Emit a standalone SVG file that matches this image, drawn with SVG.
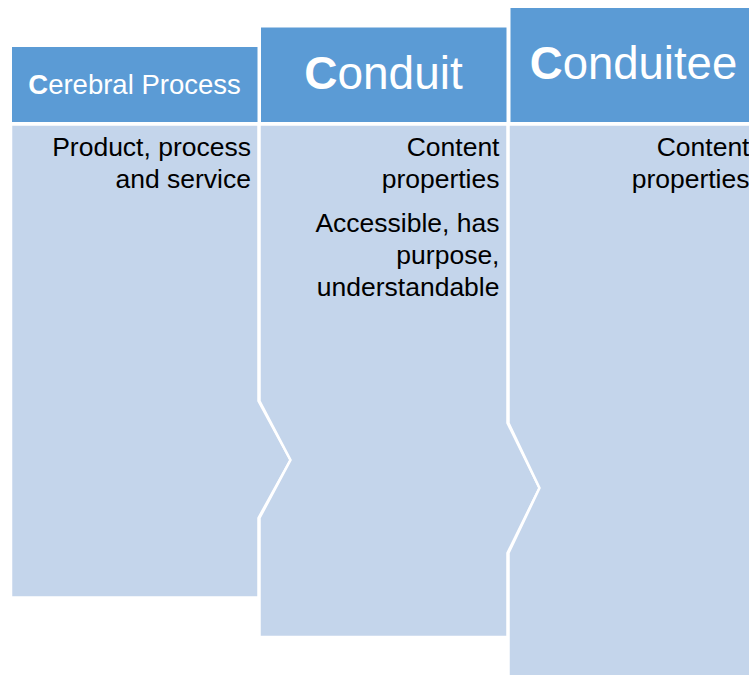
<svg xmlns="http://www.w3.org/2000/svg" width="749" height="675" viewBox="0 0 749 675">
<style>
.hdr{fill:#5B9BD5;stroke:#FFFFFF;stroke-width:2}
.body{fill:#C4D5EB;stroke:#FFFFFF;stroke-width:2.5;stroke-linejoin:miter}
.ht{font-family:"Liberation Sans",Arial,sans-serif;fill:#FFFFFF;text-anchor:middle}
.bt{font-family:"Liberation Sans",Arial,sans-serif;font-size:26.5px;fill:#000000;text-anchor:end}
.b{font-weight:bold}
</style>
<rect width="749" height="675" fill="#FFFFFF"/>
<g id="connectors"></g>
<g id="col1">
<polygon class="body" points="11,124.5 258.5,124.5 258.5,401 290.5,460 258.5,518 258.5,597.5 11,597.5"/>
<rect class="hdr" x="11" y="46" width="247.5" height="77"/>
<text class="ht" x="134.5" y="94" font-size="27.5"><tspan class="b">C</tspan>erebral Process</text>
<text class="bt" x="251" y="156">Product, process</text>
<text class="bt" x="251" y="188">and service</text>
</g>
<g id="col2">
<polygon class="body" points="259.5,124.5 507.5,124.5 507.5,423 539.5,488 507.5,553 507.5,637 259.5,637 259.5,518 290.5,460 259.5,401"/>
<rect class="hdr" x="260" y="26.5" width="247.5" height="96.5"/>
<text class="ht" x="383.5" y="89" font-size="46"><tspan class="b">C</tspan>onduit</text>
<text class="bt" x="499.5" y="156">Content</text>
<text class="bt" x="499.5" y="187.5">properties</text>
<text class="bt" x="499.5" y="231.5">Accessible, has</text>
<text class="bt" x="499.5" y="263.5">purpose,</text>
<text class="bt" x="499.5" y="296">understandable</text>
</g>
<g id="col3">
<polygon class="body" points="508.5,124.5 760,124.5 760,680 508.5,680 508.5,553 539.5,488 508.5,423"/>
<rect class="hdr" x="509.5" y="7" width="250" height="116"/>
<text class="ht" x="633.5" y="79" font-size="45.5"><tspan class="b">C</tspan>onduitee</text>
<text class="bt" x="749.5" y="156">Content</text>
<text class="bt" x="749.5" y="187.5">properties</text>
</g>
</svg>
